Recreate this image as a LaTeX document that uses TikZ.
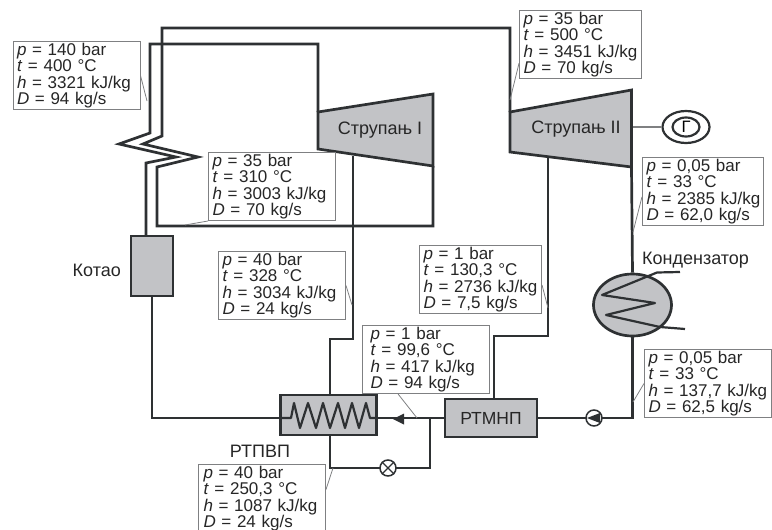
\documentclass[tikz,border=0pt]{standalone}
\usepackage{fontspec}
\setmainfont{Liberation Sans}
\usetikzlibrary{shapes.geometric}
\definecolor{pipeDark}{HTML}{2E3133}
\definecolor{unitGray}{HTML}{C2C3C6}
\definecolor{boxEdge}{HTML}{7F8082}
\newcommand{\stanje}[4]{\mbox{\textit{p} = #1 bar}\\\mbox{\textit{t} = #2 °C}\\\mbox{\textit{h} = #3 kJ/kg}\\\mbox{\textit{D} = #4 kg/s}}

\begin{document}
\begin{tikzpicture}[
    x=1pt, y=-1pt,
    pipe/.style={line width=2.7pt, draw=pipeDark, line join=miter},
    coil/.style={line width=2.2pt, draw=pipeDark, line join=round},
    unit/.style={draw=pipeDark, line width=2.7pt, fill=unitGray, inner sep=0pt,
                 text=black!85, font=\fontsize{17.5}{19}\selectfont},
    fitting/.style={draw=pipeDark, line width=1.5pt, fill=white, circle,
                 minimum size=16pt, inner sep=0pt},
    stanjebox/.style={draw=boxEdge, line width=1pt, fill=white, anchor=north west,
                 minimum height=68pt, inner xsep=4pt, inner ysep=0pt, text=black!85,
                 text width=119pt, align=left,
                 font=\fontsize{17}{16.4}\selectfont},
    leader/.style={draw=boxEdge, line width=0.8pt},
    lbl/.style={font=\fontsize{18}{20}\selectfont, text=black!85, inner sep=0pt},
  ]
    \useasboundingbox (0,0) rectangle (772,530);

    % -- turbines: corners and names --
    \coordinate (s1a) at (318,112);
    \coordinate (s1b) at (433,94);
    \coordinate (s1c) at (433,166);
    \coordinate (s1d) at (318,149);
    \coordinate (s2a) at (510,112);
    \coordinate (s2b) at (631.5,90);
    \coordinate (s2c) at (631.5,167);
    \coordinate (s2d) at (510,152);
    \draw[pipe, fill=unitGray] (s1a) -- (s1b) -- (s1c) -- (s1d) -- cycle;
    \draw[pipe, fill=unitGray] (s2a) -- (s2b) -- (s2c) -- (s2d) -- cycle;
    \node[lbl] (s1) at (380,130) {Струпањ I};
    \node[lbl] (s2) at (576,129) {Струпањ II};

    % -- units --
    \node[unit, minimum width=42pt, minimum height=60pt] (kotao) at (152,266) {};
    \node[lbl, anchor=east] (kotaoL) at (121,270) {Котао};
    \node[unit, minimum width=96pt, minimum height=40pt] (rtpvp) at (328.5,415) {};
    \node[lbl] (rtpvpL) at (260,451) {РТПВП};
    \node[unit, minimum width=92pt, minimum height=38pt] (rtmnp) at (491,418) {РТМНП};
    \node[unit, ellipse, minimum width=78pt, minimum height=62pt] (kond) at (632.5,305) {};
    \node[lbl, anchor=west] (kondL) at (642,260) {Кондензатор};

    % -- generator --
    \node[draw=pipeDark, line width=2.2pt, ellipse, minimum width=47pt, minimum height=32pt,
          inner sep=0pt] (gen) at (686,127) {};
    \node[draw=pipeDark, line width=2.2pt, ellipse, minimum width=27pt, minimum height=19pt,
          inner sep=0pt, font=\fontsize{16.5}{18}\selectfont] (genI) at (686,127) {Г};
    \coordinate (genS) at (633,127);
    \draw[line width=1.5pt, draw=boxEdge] (genS) -- (gen.west);

    % -- steam lines --
    \coordinate (top1) at (150,44);
    \coordinate (top2) at (162,28);
    \draw[pipe] (146,236) -- (146,163) -- (176,157) -- (119,144)
      -- (150,133) -- (top1) -| (s1a);
    \draw[pipe] (s1c) -- (433,226) -- (157,226) -- (157,167) -- (198,157) -- (143,144)
      -- (162,136) -- (top2) -| (s2a);
    \draw[pipe] (353,156) -- (353,339) -- (330,339) -- (330,395);
    \draw[pipe] (548,158) -- (548,336) -- (494,336) -- (494,399);
    \draw[pipe] (s2c) -- (kond.north);

    % -- feed water --
    \draw[pipe] (kotao.south) -- (152,418) -- (rtpvp.west |- 0,418);
    \draw[pipe] (rtmnp.west) -- (rtpvp.east |- rtmnp.west);
    \draw[pipe] (kond.south) -- (632.5,418) -- (rtmnp.east);
    \draw[pipe] (330,435) -- (330,468) -- (430,468) -- (430,418);

    % -- coil in rtpvp --
    \draw[coil] (280,418) -- (291,418) -- (294,403) -- (300,428) -- (308,403) -- (316,428)
      -- (323,403) -- (330,428) -- (338,403) -- (345,428) -- (352,403) -- (359,428)
      -- (366,403) -- (370,418) -- (377,418);

    % -- coil in condenser --
    \draw[coil] (680,272) -- (657,272.5) -- (602,295) -- (655,303)
      -- (606,315) -- (660,327) -- (685,329);

    % -- pump, valve, flow --
    \node[fitting] (pump) at (594,418) {};
    \fill[pipeDark] (587,418) -- (600,413) -- (600,423) -- cycle;
    \node[fitting] (ventil) at (388,468) {};
    \draw[line width=1.2pt, draw=pipeDark] (ventil.45) -- (ventil.225) (ventil.135) -- (ventil.315);
    \fill[pipeDark] (393,419) -- (404,413.5) -- (404,424.5) -- cycle;

    % -- state boxes --
    \node[stanjebox] (b1) at (12.5,41)  {\stanje{140}{400}{3321}{94}};
    \node[stanjebox, text width=114pt] (b2) at (519,10)  {\stanje{35}{500}{3451}{70}};
    \node[stanjebox] (b3) at (208,152)  {\stanje{35}{310}{3003}{70}};
    \node[stanjebox] (b4) at (218,251)  {\stanje{40}{328}{3034}{24}};
    \node[stanjebox, text width=114pt] (b5) at (419,245) {\stanje{1}{130,3}{2736}{7,5}};
    \node[stanjebox, inner xsep=8pt, text width=111pt] (b6) at (362,325)  {\stanje{1}{99,6}{417}{94}};
    \node[stanjebox, inner xsep=5pt, text width=117pt] (b7) at (198,464)  {\stanje{40}{250,3}{1087}{24}};
    \node[stanjebox, text width=113pt] (b8) at (642,157) {\stanje{0,05}{33}{2385}{62,0}};
    \node[stanjebox, text width=119pt] (b9) at (644,349) {\stanje{0,05}{33}{137,7}{62,5}};

    % -- leaders --
    \coordinate (l1) at (147,101);
    \coordinate (l2) at (510,100);
    \coordinate (l3) at (185,225);
    \coordinate (l4) at (352,305);
    \coordinate (l5) at (548,308);
    \coordinate (l6) at (417,418);
    \coordinate (l7) at (333,468);
    \coordinate (l8) at (633,232);
    \coordinate (l9) at (633,402);
    \foreach \a/\b in {b1.east/l1, b2.197/l2, b3.south west/l3, b4.east/l4, b5.-5/l5,
                       b6.231/l6, b7.8/l7, b8.185/l8, b9.west/l9}
      \draw[leader] (\a) -- (\b);
  \end{tikzpicture}
\end{document}
